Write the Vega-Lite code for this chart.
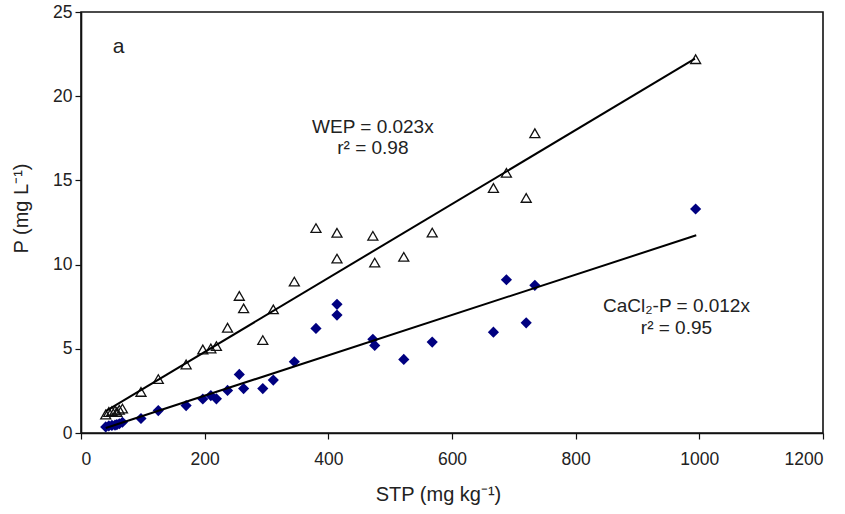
{
  "$schema": "https://vega.github.io/schema/vega-lite/v6.json",
  "width": 742,
  "height": 421,
  "autosize": {"type": "none"},
  "padding": {"left": 81, "top": 12, "right": 22, "bottom": 81},
  "background": "white",
  "config": {
    "view": {"stroke": "#111", "strokeWidth": 1.6},
    "axis": {
      "grid": false,
      "domainColor": "#111",
      "domainWidth": 1.6,
      "tickColor": "#111",
      "tickWidth": 1.2,
      "tickSize": 6,
      "labelFont": "Liberation Sans",
      "labelFontSize": 17.5,
      "labelColor": "#222",
      "titleFont": "Liberation Sans",
      "titleFontSize": 20,
      "titleFontWeight": "normal",
      "titleColor": "#222"
    },
    "text": {"font": "Liberation Sans", "color": "#222"}
  },
  "datasets": {
    "points": [
      {"stp": 994, "p": 22.2, "series": "WEP"},
      {"stp": 734, "p": 17.8, "series": "WEP"},
      {"stp": 688, "p": 15.45, "series": "WEP"},
      {"stp": 667, "p": 14.55, "series": "WEP"},
      {"stp": 720, "p": 13.96, "series": "WEP"},
      {"stp": 380, "p": 12.17, "series": "WEP"},
      {"stp": 414, "p": 11.89, "series": "WEP"},
      {"stp": 414, "p": 10.36, "series": "WEP"},
      {"stp": 472, "p": 11.71, "series": "WEP"},
      {"stp": 475, "p": 10.12, "series": "WEP"},
      {"stp": 568, "p": 11.9, "series": "WEP"},
      {"stp": 522, "p": 10.46, "series": "WEP"},
      {"stp": 345, "p": 8.99, "series": "WEP"},
      {"stp": 256, "p": 8.14, "series": "WEP"},
      {"stp": 263, "p": 7.4, "series": "WEP"},
      {"stp": 311, "p": 7.34, "series": "WEP"},
      {"stp": 237, "p": 6.25, "series": "WEP"},
      {"stp": 294, "p": 5.52, "series": "WEP"},
      {"stp": 219, "p": 5.16, "series": "WEP"},
      {"stp": 210, "p": 5.02, "series": "WEP"},
      {"stp": 197, "p": 4.96, "series": "WEP"},
      {"stp": 170, "p": 4.07, "series": "WEP"},
      {"stp": 125, "p": 3.2, "series": "WEP"},
      {"stp": 97, "p": 2.44, "series": "WEP"},
      {"stp": 40, "p": 1.1, "series": "WEP"},
      {"stp": 45, "p": 1.25, "series": "WEP"},
      {"stp": 50, "p": 1.3, "series": "WEP"},
      {"stp": 55, "p": 1.33, "series": "WEP"},
      {"stp": 58, "p": 1.25, "series": "WEP"},
      {"stp": 62, "p": 1.38, "series": "WEP"},
      {"stp": 67, "p": 1.45, "series": "WEP"},
      {"stp": 994, "p": 13.3, "series": "CaCl2-P"},
      {"stp": 734, "p": 8.77, "series": "CaCl2-P"},
      {"stp": 688, "p": 9.1, "series": "CaCl2-P"},
      {"stp": 667, "p": 5.99, "series": "CaCl2-P"},
      {"stp": 720, "p": 6.54, "series": "CaCl2-P"},
      {"stp": 380, "p": 6.21, "series": "CaCl2-P"},
      {"stp": 414, "p": 7.64, "series": "CaCl2-P"},
      {"stp": 414, "p": 7.0, "series": "CaCl2-P"},
      {"stp": 472, "p": 5.56, "series": "CaCl2-P"},
      {"stp": 475, "p": 5.2, "series": "CaCl2-P"},
      {"stp": 568, "p": 5.4, "series": "CaCl2-P"},
      {"stp": 522, "p": 4.37, "series": "CaCl2-P"},
      {"stp": 345, "p": 4.23, "series": "CaCl2-P"},
      {"stp": 256, "p": 3.48, "series": "CaCl2-P"},
      {"stp": 263, "p": 2.64, "series": "CaCl2-P"},
      {"stp": 311, "p": 3.14, "series": "CaCl2-P"},
      {"stp": 237, "p": 2.53, "series": "CaCl2-P"},
      {"stp": 294, "p": 2.64, "series": "CaCl2-P"},
      {"stp": 219, "p": 2.03, "series": "CaCl2-P"},
      {"stp": 210, "p": 2.22, "series": "CaCl2-P"},
      {"stp": 197, "p": 2.02, "series": "CaCl2-P"},
      {"stp": 170, "p": 1.63, "series": "CaCl2-P"},
      {"stp": 125, "p": 1.33, "series": "CaCl2-P"},
      {"stp": 97, "p": 0.86, "series": "CaCl2-P"},
      {"stp": 40, "p": 0.36, "series": "CaCl2-P"},
      {"stp": 45, "p": 0.42, "series": "CaCl2-P"},
      {"stp": 50, "p": 0.45, "series": "CaCl2-P"},
      {"stp": 55, "p": 0.47, "series": "CaCl2-P"},
      {"stp": 58, "p": 0.5, "series": "CaCl2-P"},
      {"stp": 62, "p": 0.55, "series": "CaCl2-P"},
      {"stp": 67, "p": 0.64, "series": "CaCl2-P"}
    ],
    "fits": [
      {"stp": 40, "p": 1.3, "series": "WEP"},
      {"stp": 993, "p": 22.23, "series": "WEP"},
      {"stp": 40, "p": 0.3, "series": "CaCl2-P"},
      {"stp": 995, "p": 11.74, "series": "CaCl2-P"}
    ],
    "one": [{}]
  },
  "layer": [
    {
      "data": {"name": "points"},
      "transform": [{"filter": "datum.series === 'WEP'"}],
      "mark": {"type": "point", "shape": "triangle-up", "filled": false, "stroke": "#111", "strokeWidth": 1.3, "size": 100, "opacity": 1},
      "encoding": {
        "x": {"field": "stp", "type": "quantitative", "scale": {"domain": [0, 1200], "nice": false},
              "axis": {"values": [0, 200, 400, 600, 800, 1000, 1200], "format": "d", "labelPadding": 11, "title": "STP (mg kg⁻¹)", "titleX": 357, "titleY": 67, "titleAlign": "center", "titleBaseline": "alphabetic"}},
        "y": {"field": "p", "type": "quantitative", "scale": {"domain": [0, 25], "nice": false},
              "axis": {"values": [0, 5, 10, 15, 20, 25], "format": "d", "labelPadding": 3, "title": "P (mg L⁻¹)", "titleX": -54, "titleY": 196, "titleAngle": -90, "titleAlign": "center", "titleBaseline": "alphabetic"}}
      }
    },
    {
      "data": {"name": "points"},
      "transform": [{"filter": "datum.series === 'CaCl2-P'"}],
      "mark": {"type": "point", "shape": "diamond", "filled": true, "color": "#000080", "size": 125, "opacity": 1},
      "encoding": {
        "x": {"field": "stp", "type": "quantitative"},
        "y": {"field": "p", "type": "quantitative"}
      }
    },
    {
      "data": {"name": "fits"},
      "mark": {"type": "line", "color": "#000", "strokeWidth": 2},
      "encoding": {
        "x": {"field": "stp", "type": "quantitative"},
        "y": {"field": "p", "type": "quantitative"},
        "detail": {"field": "series"}
      }
    },
    {
      "data": {"name": "one"},
      "mark": {"type": "text", "fontSize": 21, "align": "center", "baseline": "middle"},
      "encoding": {"x": {"datum": 61}, "y": {"datum": 22.9}, "text": {"value": "a"}}
    },
    {
      "data": {"name": "one"},
      "mark": {"type": "text", "fontSize": 19, "align": "center", "baseline": "middle"},
      "encoding": {"x": {"datum": 472}, "y": {"datum": 18.15}, "text": {"value": "WEP = 0.023x"}}
    },
    {
      "data": {"name": "one"},
      "mark": {"type": "text", "fontSize": 19, "align": "center", "baseline": "middle"},
      "encoding": {"x": {"datum": 472}, "y": {"datum": 16.9}, "text": {"value": "r² = 0.98"}}
    },
    {
      "data": {"name": "one"},
      "mark": {"type": "text", "fontSize": 19, "align": "center", "baseline": "middle"},
      "encoding": {"x": {"datum": 963}, "y": {"datum": 7.55}, "text": {"value": "CaCl₂-P = 0.012x"}}
    },
    {
      "data": {"name": "one"},
      "mark": {"type": "text", "fontSize": 19, "align": "center", "baseline": "middle"},
      "encoding": {"x": {"datum": 963}, "y": {"datum": 6.22}, "text": {"value": "r² = 0.95"}}
    }
  ]
}
